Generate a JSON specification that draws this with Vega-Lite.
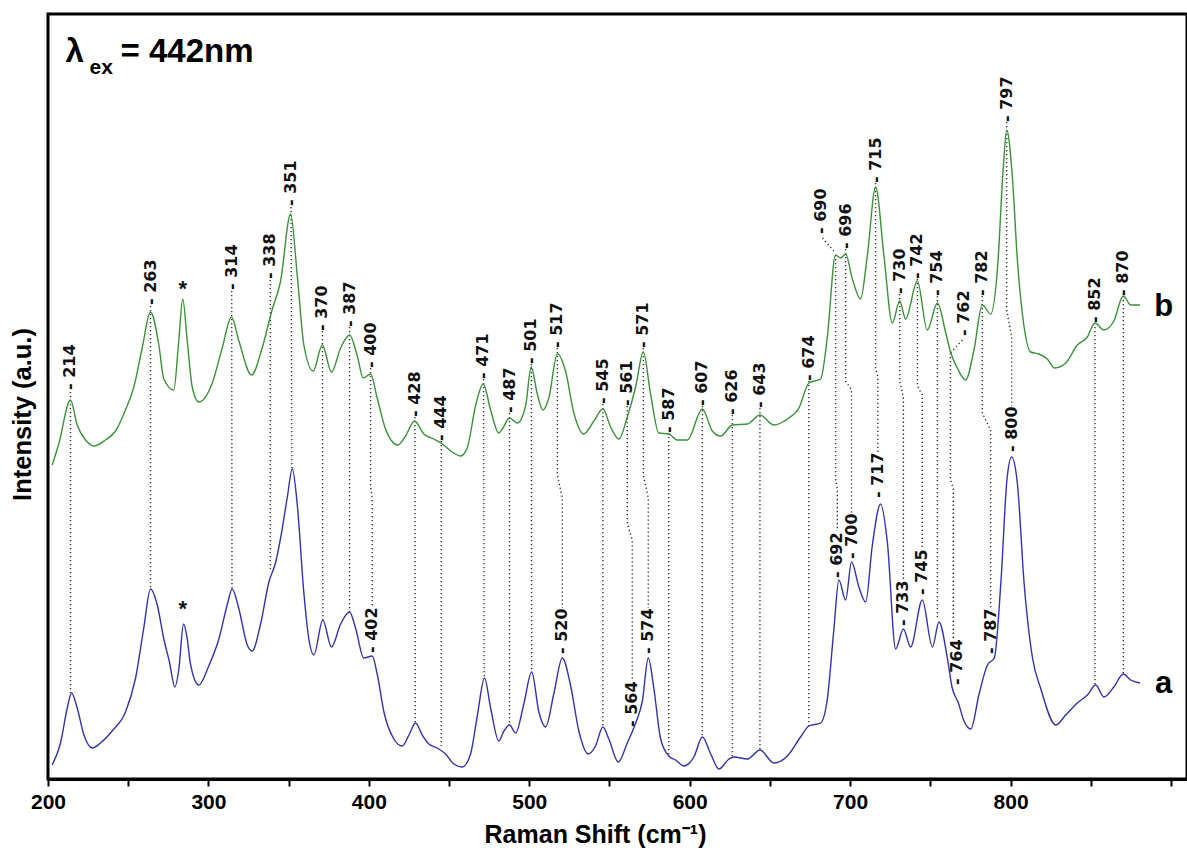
{
  "$schema": "https://vega.github.io/schema/vega-lite/v6.json",
  "width": 1139,
  "height": 765,
  "autosize": {"type": "none"},
  "padding": {"left": 48, "top": 14, "right": 0, "bottom": 72},
  "background": "white",
  "config": {"view": {"stroke": "#000", "strokeWidth": 3}},
  "datasets": {
    "spec": [
      {"s":"b","x":202.6,"y":314},{"s":"b","x":206.7,"y":335},{"s":"b","x":214,"y":379},{"s":"b","x":218.2,"y":354},{"s":"b","x":223.4,"y":339},{"s":"b","x":228.6,"y":333},{"s":"b","x":235.8,"y":339},{"s":"b","x":242.1,"y":348},{"s":"b","x":248.3,"y":369},{"s":"b","x":253.5,"y":392},{"s":"b","x":258.7,"y":431},{"s":"b","x":263.9,"y":467},{"s":"b","x":269.1,"y":434},{"s":"b","x":272.2,"y":400},{"s":"b","x":278.4,"y":389},{"s":"b","x":281.5,"y":438},{"s":"b","x":284,"y":480},{"s":"b","x":286.8,"y":438},{"s":"b","x":289.9,"y":392},{"s":"b","x":294,"y":377},{"s":"b","x":302.4,"y":396},{"s":"b","x":308.6,"y":431},{"s":"b","x":314.4,"y":462},{"s":"b","x":319,"y":438},{"s":"b","x":326.9,"y":404},{"s":"b","x":333.5,"y":431},{"s":"b","x":339.5,"y":468},{"s":"b","x":345,"y":498},{"s":"b","x":351.2,"y":565},{"s":"b","x":355.4,"y":503},{"s":"b","x":359.5,"y":434},{"s":"b","x":365.3,"y":408},{"s":"b","x":371,"y":434},{"s":"b","x":376.7,"y":407},{"s":"b","x":382.4,"y":431},{"s":"b","x":388,"y":444},{"s":"b","x":392.8,"y":423},{"s":"b","x":396.5,"y":401},{"s":"b","x":401.1,"y":405},{"s":"b","x":405.2,"y":381},{"s":"b","x":410.4,"y":350},{"s":"b","x":418.1,"y":334},{"s":"b","x":422.9,"y":343},{"s":"b","x":428.5,"y":358},{"s":"b","x":434.3,"y":345},{"s":"b","x":440.5,"y":340},{"s":"b","x":445.1,"y":336},{"s":"b","x":452,"y":327},{"s":"b","x":457.2,"y":323},{"s":"b","x":461.3,"y":331},{"s":"b","x":466.5,"y":373},{"s":"b","x":471.3,"y":395},{"s":"b","x":475.9,"y":369},{"s":"b","x":481,"y":346},{"s":"b","x":483.2,"y":350},{"s":"b","x":487.7,"y":361},{"s":"b","x":492.5,"y":356},{"s":"b","x":497.7,"y":373},{"s":"b","x":501.2,"y":412},{"s":"b","x":505,"y":385},{"s":"b","x":508.5,"y":369},{"s":"b","x":512.2,"y":381},{"s":"b","x":517.5,"y":425},{"s":"b","x":522.6,"y":408},{"s":"b","x":527.8,"y":366},{"s":"b","x":534,"y":345},{"s":"b","x":540.3,"y":358},{"s":"b","x":545.9,"y":370},{"s":"b","x":550.7,"y":352},{"s":"b","x":555.9,"y":340},{"s":"b","x":561.1,"y":362},{"s":"b","x":566.3,"y":392},{"s":"b","x":571.1,"y":427},{"s":"b","x":575.6,"y":385},{"s":"b","x":580.8,"y":346},{"s":"b","x":587,"y":345},{"s":"b","x":592.3,"y":339},{"s":"b","x":598.5,"y":339},{"s":"b","x":607.9,"y":370},{"s":"b","x":614.1,"y":348},{"s":"b","x":619.3,"y":343},{"s":"b","x":626.6,"y":354},{"s":"b","x":636,"y":355},{"s":"b","x":643.8,"y":364},{"s":"b","x":652.5,"y":354},{"s":"b","x":660.9,"y":360},{"s":"b","x":668.1,"y":371},{"s":"b","x":674.3,"y":396},{"s":"b","x":681.6,"y":400},{"s":"b","x":685.8,"y":442},{"s":"b","x":690.9,"y":524},{"s":"b","x":694.1,"y":521},{"s":"b","x":697.2,"y":525},{"s":"b","x":701.4,"y":500},{"s":"b","x":706.5,"y":480},{"s":"b","x":710.7,"y":523},{"s":"b","x":715.9,"y":592},{"s":"b","x":721.1,"y":523},{"s":"b","x":726.3,"y":456},{"s":"b","x":730.9,"y":478},{"s":"b","x":734.6,"y":460},{"s":"b","x":741.9,"y":498},{"s":"b","x":748.1,"y":449},{"s":"b","x":754.4,"y":476},{"s":"b","x":759.5,"y":447},{"s":"b","x":762.6,"y":427},{"s":"b","x":766.8,"y":411},{"s":"b","x":772,"y":399},{"s":"b","x":777.2,"y":429},{"s":"b","x":782.4,"y":474},{"s":"b","x":787.6,"y":465},{"s":"b","x":791.8,"y":509},{"s":"b","x":795.5,"y":612},{"s":"b","x":797.6,"y":649},{"s":"b","x":801.1,"y":603},{"s":"b","x":804.3,"y":518},{"s":"b","x":807.4,"y":465},{"s":"b","x":812.5,"y":427},{"s":"b","x":817.7,"y":425},{"s":"b","x":822.9,"y":420},{"s":"b","x":827.5,"y":411},{"s":"b","x":834.4,"y":416},{"s":"b","x":841.6,"y":434},{"s":"b","x":847.9,"y":442},{"s":"b","x":852.6,"y":456},{"s":"b","x":858.2,"y":449},{"s":"b","x":864.4,"y":458},{"s":"b","x":870.3,"y":483},{"s":"b","x":874.9,"y":474},{"s":"b","x":880.7,"y":474},
      {"s":"a","x":202.6,"y":14},{"s":"a","x":207.8,"y":36},{"s":"a","x":212,"y":71},{"s":"a","x":214.7,"y":86},{"s":"a","x":218.2,"y":71},{"s":"a","x":222.4,"y":44},{"s":"a","x":227.6,"y":31},{"s":"a","x":232.7,"y":36},{"s":"a","x":240,"y":48},{"s":"a","x":248.3,"y":67},{"s":"a","x":254.6,"y":101},{"s":"a","x":259.7,"y":151},{"s":"a","x":263.9,"y":190},{"s":"a","x":268.1,"y":174},{"s":"a","x":272.2,"y":140},{"s":"a","x":275.7,"y":117},{"s":"a","x":279.1,"y":92},{"s":"a","x":281.5,"y":109},{"s":"a","x":284.5,"y":155},{"s":"a","x":286.8,"y":140},{"s":"a","x":288.8,"y":115},{"s":"a","x":294,"y":94},{"s":"a","x":300.2,"y":113},{"s":"a","x":306.5,"y":140},{"s":"a","x":311.7,"y":174},{"s":"a","x":314.8,"y":190},{"s":"a","x":319,"y":170},{"s":"a","x":324.2,"y":134},{"s":"a","x":327.3,"y":128},{"s":"a","x":332.5,"y":155},{"s":"a","x":337.7,"y":197},{"s":"a","x":341.8,"y":216},{"s":"a","x":345,"y":241},{"s":"a","x":349.1,"y":281},{"s":"a","x":352.3,"y":310},{"s":"a","x":355.4,"y":274},{"s":"a","x":359.5,"y":186},{"s":"a","x":362.6,"y":140},{"s":"a","x":365.7,"y":124},{"s":"a","x":371.3,"y":159},{"s":"a","x":376.7,"y":132},{"s":"a","x":382.4,"y":155},{"s":"a","x":388,"y":167},{"s":"a","x":391.7,"y":151},{"s":"a","x":396.9,"y":121},{"s":"a","x":402.1,"y":123},{"s":"a","x":405.2,"y":105},{"s":"a","x":409.4,"y":67},{"s":"a","x":415.6,"y":40},{"s":"a","x":420.8,"y":33},{"s":"a","x":425,"y":44},{"s":"a","x":429.1,"y":56},{"s":"a","x":433.3,"y":44},{"s":"a","x":437.4,"y":35},{"s":"a","x":442.6,"y":31},{"s":"a","x":447.8,"y":25},{"s":"a","x":453,"y":15},{"s":"a","x":458.2,"y":12},{"s":"a","x":463.4,"y":25},{"s":"a","x":467.6,"y":63},{"s":"a","x":472.1,"y":101},{"s":"a","x":475.9,"y":71},{"s":"a","x":481,"y":38},{"s":"a","x":484.2,"y":48},{"s":"a","x":487.7,"y":54},{"s":"a","x":491.5,"y":46},{"s":"a","x":496.6,"y":75},{"s":"a","x":501.5,"y":107},{"s":"a","x":506,"y":67},{"s":"a","x":510.2,"y":52},{"s":"a","x":515.4,"y":86},{"s":"a","x":520.6,"y":121},{"s":"a","x":525.7,"y":94},{"s":"a","x":530.9,"y":48},{"s":"a","x":536.8,"y":25},{"s":"a","x":541.3,"y":33},{"s":"a","x":545.9,"y":52},{"s":"a","x":549.6,"y":40},{"s":"a","x":555.5,"y":17},{"s":"a","x":561.1,"y":36},{"s":"a","x":566.3,"y":56},{"s":"a","x":570.5,"y":78},{"s":"a","x":574.2,"y":121},{"s":"a","x":577.7,"y":90},{"s":"a","x":581.9,"y":40},{"s":"a","x":587,"y":23},{"s":"a","x":591.2,"y":19},{"s":"a","x":596.4,"y":13},{"s":"a","x":602.6,"y":22},{"s":"a","x":607.9,"y":42},{"s":"a","x":613.1,"y":25},{"s":"a","x":618.2,"y":10},{"s":"a","x":624.5,"y":20},{"s":"a","x":627.6,"y":22},{"s":"a","x":636,"y":20},{"s":"a","x":643.8,"y":29},{"s":"a","x":652.5,"y":16},{"s":"a","x":660.9,"y":23},{"s":"a","x":669.1,"y":42},{"s":"a","x":674.3,"y":53},{"s":"a","x":681.6,"y":56},{"s":"a","x":685.8,"y":80},{"s":"a","x":689.9,"y":150},{"s":"a","x":693,"y":199},{"s":"a","x":697.2,"y":179},{"s":"a","x":700.9,"y":217},{"s":"a","x":705.5,"y":192},{"s":"a","x":709.7,"y":177},{"s":"a","x":713.8,"y":233},{"s":"a","x":719,"y":275},{"s":"a","x":723.2,"y":237},{"s":"a","x":728.4,"y":130},{"s":"a","x":733.2,"y":150},{"s":"a","x":737.7,"y":132},{"s":"a","x":745,"y":179},{"s":"a","x":751.3,"y":132},{"s":"a","x":755.4,"y":157},{"s":"a","x":760.6,"y":121},{"s":"a","x":763.5,"y":92},{"s":"a","x":767.5,"y":76},{"s":"a","x":771,"y":58},{"s":"a","x":775.2,"y":50},{"s":"a","x":780.4,"y":85},{"s":"a","x":785.6,"y":114},{"s":"a","x":789.9,"y":121},{"s":"a","x":794,"y":197},{"s":"a","x":797.8,"y":300},{"s":"a","x":800.7,"y":322},{"s":"a","x":804.3,"y":295},{"s":"a","x":808.4,"y":197},{"s":"a","x":813.7,"y":121},{"s":"a","x":818.9,"y":90},{"s":"a","x":828.2,"y":54},{"s":"a","x":834.4,"y":64},{"s":"a","x":841.6,"y":76},{"s":"a","x":847.9,"y":84},{"s":"a","x":853.1,"y":94},{"s":"a","x":858.2,"y":82},{"s":"a","x":864.4,"y":92},{"s":"a","x":870.3,"y":105},{"s":"a","x":874.9,"y":99},{"s":"a","x":880.7,"y":96}
    ],
    "conn": [
      {"id":"c214","o":1,"x":214,"y":387},{"id":"c214","o":2,"x":214,"y":86},
      {"id":"c263","o":1,"x":263.9,"y":473},{"id":"c263","o":2,"x":263.9,"y":190},
      {"id":"c314","o":1,"x":314.5,"y":488},{"id":"c314","o":2,"x":314.7,"y":190},
      {"id":"c338","o":1,"x":338.6,"y":499},{"id":"c338","o":2,"x":338.6,"y":209},
      {"id":"c351","o":1,"x":351.5,"y":572},{"id":"c351","o":2,"x":352,"y":310},
      {"id":"c370","o":1,"x":371.1,"y":448},{"id":"c370","o":2,"x":371.3,"y":159},
      {"id":"c387","o":1,"x":388,"y":452},{"id":"c387","o":2,"x":388,"y":167},
      {"id":"c400","o":1,"x":401.1,"y":411},{"id":"c400","o":2,"x":401.1,"y":293},{"id":"c400","o":3,"x":402.1,"y":280},{"id":"c400","o":4,"x":402.1,"y":172},
      {"id":"c428","o":1,"x":428.7,"y":362},{"id":"c428","o":2,"x":428.9,"y":56},
      {"id":"c444","o":1,"x":445.1,"y":338},{"id":"c444","o":2,"x":445.1,"y":33},
      {"id":"c471","o":1,"x":471.5,"y":400},{"id":"c471","o":2,"x":471.9,"y":101},
      {"id":"c487","o":1,"x":487.7,"y":366},{"id":"c487","o":2,"x":487.7,"y":54},
      {"id":"c501","o":1,"x":501.3,"y":415},{"id":"c501","o":2,"x":501.5,"y":107},
      {"id":"c517","o":1,"x":517.5,"y":431},{"id":"c517","o":2,"x":517.5,"y":304},{"id":"c517","o":3,"x":520.6,"y":281},{"id":"c517","o":4,"x":520.6,"y":171},
      {"id":"c545","o":1,"x":545.9,"y":375},{"id":"c545","o":2,"x":545.9,"y":52},
      {"id":"c561","o":1,"x":561.1,"y":373},{"id":"c561","o":2,"x":561.1,"y":255},{"id":"c561","o":3,"x":564.2,"y":239},{"id":"c561","o":4,"x":564.2,"y":98},
      {"id":"c571","o":1,"x":571.1,"y":431},{"id":"c571","o":2,"x":571.1,"y":304},{"id":"c571","o":3,"x":574.2,"y":281},{"id":"c571","o":4,"x":574.2,"y":171},
      {"id":"c587","o":1,"x":587,"y":346},{"id":"c587","o":2,"x":587,"y":23},
      {"id":"c607","o":1,"x":607.9,"y":373},{"id":"c607","o":2,"x":607.9,"y":42},
      {"id":"c626","o":1,"x":626.6,"y":364},{"id":"c626","o":2,"x":626.6,"y":22},
      {"id":"c643","o":1,"x":643.8,"y":371},{"id":"c643","o":2,"x":643.8,"y":29},
      {"id":"c674","o":1,"x":674.3,"y":398},{"id":"c674","o":2,"x":674.3,"y":53},
      {"id":"l690","o":1,"x":682.8,"y":541},{"id":"l690","o":2,"x":690.9,"y":526},
      {"id":"c690","o":1,"x":691,"y":524},{"id":"c690","o":2,"x":691,"y":300},{"id":"c690","o":3,"x":692,"y":290},{"id":"c690","o":4,"x":692,"y":248},
      {"id":"c696","o":1,"x":697.2,"y":530},{"id":"c696","o":2,"x":697.2,"y":398},{"id":"c696","o":3,"x":700.9,"y":389},{"id":"c696","o":4,"x":700.9,"y":266},
      {"id":"c715","o":1,"x":715.9,"y":596},{"id":"c715","o":2,"x":715.9,"y":411},{"id":"c715","o":3,"x":717.3,"y":402},{"id":"c715","o":4,"x":717.3,"y":327},
      {"id":"c730","o":1,"x":730.9,"y":485},{"id":"c730","o":2,"x":730.9,"y":398},{"id":"c730","o":3,"x":733.2,"y":382},{"id":"c730","o":4,"x":733.2,"y":199},
      {"id":"c742","o":1,"x":741.9,"y":500},{"id":"c742","o":2,"x":741.9,"y":393},{"id":"c742","o":3,"x":745,"y":384},{"id":"c742","o":4,"x":745,"y":230},
      {"id":"c754","o":1,"x":754.4,"y":483},{"id":"c754","o":2,"x":754.4,"y":160},
      {"id":"l762","o":1,"x":770,"y":439},{"id":"l762","o":2,"x":762.5,"y":426},
      {"id":"c762","o":1,"x":762.5,"y":426},{"id":"c762","o":2,"x":762.5,"y":300},{"id":"c762","o":3,"x":764.3,"y":290},{"id":"c762","o":4,"x":764.3,"y":140},
      {"id":"c782","o":1,"x":782.4,"y":483},{"id":"c782","o":2,"x":782.4,"y":366},{"id":"c782","o":3,"x":787.6,"y":349},{"id":"c782","o":4,"x":787.6,"y":171},
      {"id":"c797","o":1,"x":797.6,"y":657},{"id":"c797","o":2,"x":797.6,"y":469},{"id":"c797","o":3,"x":800.7,"y":442},{"id":"c797","o":4,"x":800.7,"y":373},
      {"id":"c852","o":1,"x":852.6,"y":456},{"id":"c852","o":2,"x":852.6,"y":94},
      {"id":"c870","o":1,"x":870.3,"y":483},{"id":"c870","o":2,"x":870.3,"y":105}
    ],
    "lab": [
      {"x":214,"y":389,"t":"- 214"},{"x":263.9,"y":474,"t":"- 263"},{"x":314.4,"y":489,"t":"- 314"},{"x":338.5,"y":500,"t":"- 338"},{"x":351.2,"y":573,"t":"- 351"},{"x":371,"y":448,"t":"- 370"},{"x":388,"y":452,"t":"- 387"},{"x":401.1,"y":411,"t":"- 400"},{"x":428.5,"y":362,"t":"- 428"},{"x":445,"y":338,"t":"- 444"},{"x":471.3,"y":400,"t":"- 471"},{"x":487.7,"y":366,"t":"- 487"},{"x":501.2,"y":415,"t":"- 501"},{"x":517.5,"y":431,"t":"- 517"},{"x":545.9,"y":375,"t":"- 545"},{"x":561.1,"y":373,"t":"- 561"},{"x":571.1,"y":431,"t":"- 571"},{"x":587,"y":346,"t":"- 587"},{"x":607.9,"y":373,"t":"- 607"},{"x":626.6,"y":364,"t":"- 626"},{"x":643.8,"y":371,"t":"- 643"},{"x":674.3,"y":398,"t":"- 674"},{"x":681.6,"y":545,"t":"- 690"},{"x":697.2,"y":530,"t":"- 696"},{"x":715.9,"y":596,"t":"- 715"},{"x":730.9,"y":485,"t":"- 730"},{"x":741.9,"y":500,"t":"- 742"},{"x":754.4,"y":483,"t":"- 754"},{"x":771,"y":443,"t":"- 762"},{"x":782.4,"y":483,"t":"- 782"},{"x":797.6,"y":657,"t":"- 797"},{"x":852.6,"y":456,"t":"- 852"},{"x":870.3,"y":483,"t":"- 870"},
      {"x":402.1,"y":126,"t":"- 402"},{"x":520.6,"y":125,"t":"- 520"},{"x":564.2,"y":52,"t":"- 564"},{"x":574.2,"y":125,"t":"- 574"},{"x":692,"y":201,"t":"- 692"},{"x":700.9,"y":220,"t":"- 700"},{"x":717.3,"y":281,"t":"- 717"},{"x":733.2,"y":153,"t":"- 733"},{"x":745,"y":184,"t":"- 745"},{"x":766.5,"y":94,"t":"- 764"},{"x":787.6,"y":125,"t":"- 787"},{"x":800.7,"y":327,"t":"- 800"}
    ],
    "stars": [{"x":284,"y":490,"t":"*"},{"x":284,"y":170,"t":"*"}],
    "letters": [{"x":895.5,"y":463,"t":"b"},{"x":895.5,"y":86,"t":"a"}],
    "titleBig": [{"x":210.9,"y":717,"t":"λ"},{"x":245.2,"y":717,"t":"= 442nm"}],
    "titleSmall": [{"x":225.9,"y":705,"t":"ex"}]
  },
  "encoding": {
    "x": {"field":"x","type":"quantitative","scale":{"domain":[200,910],"nice":false,"zero":false},
      "axis":{"values":[200,250,300,350,400,450,500,550,600,650,700,750,800,850,900],"labelExpr":"datum.value % 100 === 0 && datum.value < 900 ? datum.label : ''","title":"Raman Shift (cm⁻¹)","grid":false,"domainColor":"#000","domainWidth":3,"tickColor":"#000","tickWidth":2,"tickSize":7,"labelFont":"Liberation Sans","labelFontSize":21,"labelFontWeight":"bold","labelColor":"#000","labelPadding":5,"labelFlush":false,"labelOverlap":false,"titleFont":"Liberation Sans","titleFontSize":25,"titleFontWeight":"bold","titleColor":"#000","titleX":547,"titleY":63,"titleBaseline":"alphabetic","titleAlign":"center"}},
    "y": {"field":"y","type":"quantitative","scale":{"domain":[0,765],"nice":false,"zero":false},
      "axis":{"title":"Intensity (a.u.)","labels":false,"ticks":false,"domain":false,"grid":false,"titleFont":"Liberation Sans","titleFontSize":25.5,"titleFontWeight":"bold","titleColor":"#000","titlePadding":13,"titleY":400}}
  },
  "layer": [
    {"data":{"name":"conn"},"mark":{"type":"line","color":"#333","strokeWidth":1.4,"strokeDash":[1.3,2.7],"strokeCap":"butt"},
     "encoding":{"detail":{"field":"id"},"order":{"field":"o","type":"quantitative"}}},
    {"data":{"name":"spec"},"mark":{"type":"line","strokeWidth":1.4,"interpolate":"monotone"},
     "encoding":{"color":{"field":"s","type":"nominal","scale":{"domain":["a","b"],"range":["#3232b4","#3a923a"]},"legend":null}}},
    {"data":{"name":"lab"},"mark":{"type":"text","angle":270,"align":"left","baseline":"middle","font":"DejaVu Sans","fontWeight":"bold","fontSize":16,"color":"#111"},
     "encoding":{"text":{"field":"t"}}},
    {"data":{"name":"stars"},"mark":{"type":"text","align":"center","baseline":"middle","font":"Liberation Sans","fontWeight":"bold","fontSize":22,"color":"#111"},
     "encoding":{"text":{"field":"t"}}},
    {"data":{"name":"letters"},"mark":{"type":"text","align":"center","baseline":"alphabetic","font":"Liberation Sans","fontWeight":"bold","fontSize":31,"color":"#000"},
     "encoding":{"text":{"field":"t"}}},
    {"data":{"name":"titleBig"},"mark":{"type":"text","align":"left","baseline":"alphabetic","font":"Liberation Sans","fontWeight":"bold","fontSize":33,"color":"#000"},
     "encoding":{"text":{"field":"t"}}},
    {"data":{"name":"titleSmall"},"mark":{"type":"text","align":"left","baseline":"alphabetic","font":"Liberation Sans","fontWeight":"bold","fontSize":21,"color":"#000"},
     "encoding":{"text":{"field":"t"}}}
  ]
}
